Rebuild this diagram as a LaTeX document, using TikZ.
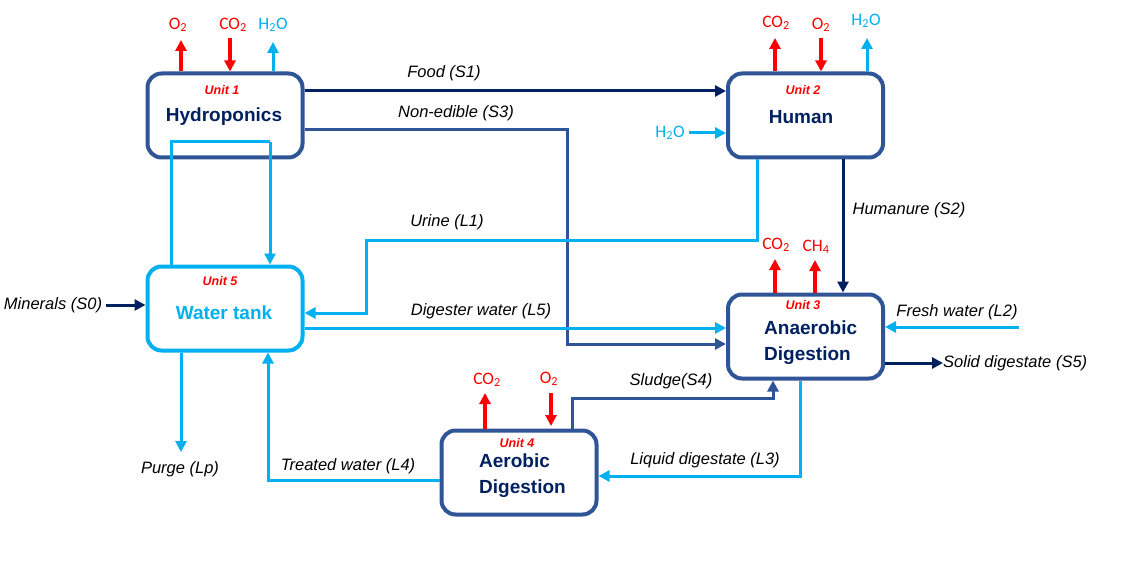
\documentclass[tikz,border=0pt]{standalone}
\usepackage{fontspec}
\setmainfont{Liberation Sans}
\newfontfamily\calib{Carlito}
\usetikzlibrary{arrows.meta}
\definecolor{navy}{RGB}{0,32,96}
\definecolor{boxblue}{RGB}{47,85,151}
\definecolor{lblue}{RGB}{0,176,240}
\definecolor{pured}{RGB}{255,0,0}
\tikzset{
  unitbox/.style={draw=boxblue, line width=4pt, rounded corners=14pt, minimum width=155pt, minimum height=84pt, fill=white, inner sep=0pt},
  unitlbl/.style={text=pured, font=\fontsize{12.5}{14}\selectfont\bfseries\itshape, inner sep=0pt},
  title/.style={text=navy, font=\fontsize{19}{26}\selectfont\bfseries, align=left, inner sep=0pt},
  flow/.style={font=\fontsize{16.5}{20}\selectfont\itshape, inner sep=0pt},
  gasred/.style={text=pured, font=\calib\fontsize{17.5}{18}\selectfont, inner sep=0pt},
  gasblue/.style={text=lblue, font=\calib\fontsize{17.5}{18}\selectfont, inner sep=0pt},
  tip/.style={-{Triangle[length=11pt,width=11pt]}},
  redarr/.style={draw=pured, line width=3.6pt, tip},
  bluearr/.style={draw=lblue, line width=3pt, tip},
  blueline/.style={draw=lblue, line width=3pt},
  navyarr/.style={draw=navy, line width=3pt, tip},
  midarr/.style={draw=boxblue, line width=3pt, tip},
}
\begin{document}
\begin{tikzpicture}[x=1pt,y=-1pt]
\useasboundingbox (0,0) rectangle (1123,580);
% boxes
\node[unitbox] (hyd) at (225,115.5) {};
\node[unitbox] (hum) at (805.5,115.5) {};
\node[unitbox, draw=lblue] (wt) at (225,308.5) {};
\node[unitbox] (ana) at (805.5,336.5) {};
\node[unitbox] (aer) at (519,472.5) {};
% box texts
\node[unitlbl] (u1) at (222,90) {Unit 1};
\node[title] (t1) at (224,117) {Hydroponics};
\node[unitlbl] (u2) at (803,90) {Unit 2};
\node[title] (t2) at (801,117) {Human};
\node[unitlbl] (u5) at (220,281) {Unit 5};
\node[title, text=lblue] (t5) at (224,313) {Water tank};
\node[unitlbl] (u3) at (803,305) {Unit 3};
\node[title, anchor=west] (t3) at (764,343) {Anaerobic\\Digestion};
\node[unitlbl] (u4) at (517,443) {Unit 4};
\node[title, anchor=west] (t4) at (479,476) {Aerobic\\Digestion};
% gas labels
\node[gasred] (g1) at (178,25) {O\textsubscript{2}};
\node[gasred] (g2) at (233,25) {CO\textsubscript{2}};
\node[gasblue] (g3) at (273,25) {H\textsubscript{2}O};
\node[gasred] (g4) at (776,23) {CO\textsubscript{2}};
\node[gasred] (g5) at (821,25) {O\textsubscript{2}};
\node[gasblue] (g6) at (866,21) {H\textsubscript{2}O};
\node[gasblue] (g7) at (670,133) {H\textsubscript{2}O};
\node[gasred] (g8) at (776,245) {CO\textsubscript{2}};
\node[gasred] (g9) at (816,247) {CH\textsubscript{4}};
\node[gasred] (g10) at (487,380) {CO\textsubscript{2}};
\node[gasred] (g11) at (549,379) {O\textsubscript{2}};
% gas arrows
\draw[redarr] (hyd.north -| 181,0) -- (181,40);
\draw[redarr] (230,38) -- (hyd.north -| 230,0);
\draw[bluearr] (hyd.north -| 273,0) -- (273,42);
\draw[redarr] (hum.north -| 775,0) -- (775,38);
\draw[redarr] (821,38) -- (hum.north -| 821,0);
\draw[bluearr] (hum.north -| 867,0) -- (867,38);
\draw[bluearr] (g7.east) ++(4,0) -- (hum.west |- g7);
\draw[redarr] (ana.north -| 775,0) -- (775,259);
\draw[redarr] (ana.north -| 815,0) -- (815,260);
\draw[redarr] (aer.north -| 485,0) -- (485,393);
\draw[redarr] (551,393) -- (551,426);
% flow labels
\node[flow] (f1) at (444,73) {Food (S1)};
\node[flow] (f3) at (456,113) {Non-edible (S3)};
\node[flow] (l1) at (447,222) {Urine (L1)};
\node[flow] (f2) at (909,210) {Humanure (S2)};
\node[flow] (l5) at (481,311) {Digester water (L5)};
\node[flow] (l2) at (957,312) {Fresh water (L2)};
\node[flow, anchor=west] (f5) at (943,363) {Solid digestate (S5)};
\node[flow] (f0) at (53,305) {Minerals (S0)};
\node[flow] (lp) at (180,469) {Purge (Lp)};
\node[flow] (l4) at (348,466) {Treated water (L4)};
\node[flow] (f4) at (671,381) {Sludge(S4)};
\node[flow] (l3) at (705,460) {Liquid digestate (L3)};
% connectors
\draw[navyarr] (hyd.east |- 0,91) -- (hum.west |- 0,91);
\draw[midarr] (hyd.east |- 0,130) -- (567,130) -- (567,344) -- (ana.west |- 0,344);
\draw[blueline] (wt.north -| 171,0) -- (171,142) -- (270,142);
\draw[bluearr] (270,142) -- (wt.north -| 270,0);
\draw[bluearr] (hum.south -| 757,0) -- (757,240) -- (366,240) -- (366,313) -- (wt.east |- 0,313);
\draw[navyarr] (hum.south -| 843,0) -- (ana.north -| 843,0);
\draw[bluearr] (wt.east |- 0,328) -- (ana.west |- 0,328);
\draw[bluearr] (1019,327) -- (ana.east |- 0,327);
\draw[navyarr] (ana.east |- 0,363) -- (f5.west);
\draw[navyarr] (f0.east) ++(4,0) -- (wt.west |- f0);
\draw[bluearr] (wt.south -| 181,0) -- (181,452);
\draw[bluearr] (aer.west |- 0,480) -- (268,480) -- (wt.south -| 268,0);
\draw[midarr] (aer.north -| 572,0) -- (572,398) -- (773,398) -- (ana.south -| 773,0);
\draw[bluearr] (ana.south -| 800,0) -- (800,476) -- (aer.east |- 0,476);
\end{tikzpicture}
\end{document}
